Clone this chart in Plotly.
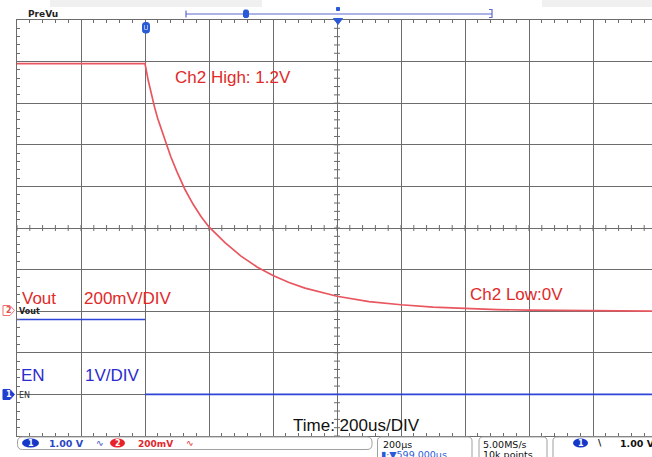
import plotly.graph_objects as go

# ---------------- data ----------------
ch2_time_us = [0, 100, 200, 300, 400, 410, 420, 430, 440, 460, 480, 500, 525, 550, 575,
               600, 650, 700, 750, 800, 850, 900, 950, 1000, 1100, 1200, 1300, 1400,
               1500, 1600, 1800, 1984]
ch2_volts = [1.19, 1.19, 1.19, 1.19, 1.19, 1.11, 1.04, 0.98, 0.925, 0.83, 0.745, 0.67, 0.585, 0.515, 0.455,
             0.405, 0.33, 0.265, 0.213, 0.172, 0.138, 0.111, 0.09, 0.072, 0.046, 0.031, 0.02, 0.013,
             0.008, 0.005, 0.002, 0.0]
ch1_time_us = [0, 400, None, 400, 1984]
ch1_volts = [1.8, 1.8, None, 0.0, 0.0]

ch2_range = [-0.6, 1.4]    # 200 mV/div, 10 div
ch1_range = [-1.0, 9.0]    # 1 V/div, 10 div
time_div_us = 200

# ---------------- geometry ----------------
W, H = 652, 457
L, R, T, B = 17, 0, 20, 21
PW, PH = W - L - R, H - T - B
DIV_PX = 64.0
t_end = PW / DIV_PX * time_div_us


def px(x):
    return (x - L) / PW


def py(y):
    return (H - B - y) / PH


GRID = "#6c6c6c"
RED_TRACE = "#e9565f"
RED_TEXT = "#e02a2a"
BLUE_TRACE = "#2f45d8"
BLUE_TEXT = "#2b2bd0"
FONT = "Liberation Sans, Arial, sans-serif"
UI = "DejaVu Sans, sans-serif"

fig = go.Figure()
fig.add_trace(go.Scatter(x=ch1_time_us, y=ch1_volts, yaxis="y2", mode="lines",
                         line=dict(color=BLUE_TRACE, width=1.6), connectgaps=False,
                         hoverinfo="skip", showlegend=False))
fig.add_trace(go.Scatter(x=ch2_time_us, y=ch2_volts, yaxis="y", mode="lines",
                         line=dict(color=RED_TRACE, width=1.7),
                         hoverinfo="skip", showlegend=False))

shapes = []
# centre crosshair minor ticks
mid_t = 5 * time_div_us
mid_v = (ch2_range[0] + ch2_range[1]) / 2
dt = 3 * time_div_us / DIV_PX
dv = 3 * 0.2 / (PH / 10)
for i in range(0, 51):
    t = i * time_div_us / 5
    if t > t_end:
        break
    shapes.append(dict(type="line", xref="x", yref="y", x0=t, x1=t, y0=mid_v - dv, y1=mid_v + dv,
                       line=dict(color=GRID, width=1), layer="below"))
for i in range(0, 51):
    v = ch2_range[0] + i * 0.04
    shapes.append(dict(type="line", xref="x", yref="y", x0=mid_t - dt, x1=mid_t + dt, y0=v, y1=v,
                       line=dict(color=GRID, width=1), layer="below"))


def path(points, close=True):
    s = "M " + " L ".join(f"{px(x):.5f},{py(y):.5f}" for x, y in points)
    return s + (" Z" if close else "")


def rrect(x0, y0, x1, y1, r):
    P = lambda x, y: f"{px(x):.5f},{py(y):.5f}"
    return (f"M {P(x0 + r, y0)} L {P(x1 - r, y0)} Q {P(x1, y0)} {P(x1, y0 + r)} "
            f"L {P(x1, y1 - r)} Q {P(x1, y1)} {P(x1 - r, y1)} L {P(x0 + r, y1)} "
            f"Q {P(x0, y1)} {P(x0, y1 - r)} L {P(x0, y0 + r)} Q {P(x0, y0)} {P(x0 + r, y0)} Z")


def shp_path(p, fill=None, line="#999", width=1):
    d = dict(type="path", xref="paper", yref="paper", path=p, line=dict(color=line, width=width))
    if fill:
        d["fillcolor"] = fill
    return d


def ellipse(cx, cy, rx, ry, fill):
    return dict(type="circle", xref="paper", yref="paper", x0=px(cx - rx), x1=px(cx + rx),
                y0=py(cy + ry), y1=py(cy - ry), fillcolor=fill, line=dict(color=fill, width=0))


# top bar
shapes.append(dict(type="rect", xref="paper", yref="paper", x0=px(50), x1=px(262), y0=py(7), y1=py(0),
                   fillcolor="#f0f0f0", line=dict(width=0)))
shapes.append(dict(type="rect", xref="paper", yref="paper", x0=px(542), x1=px(652), y0=py(7), y1=py(0),
                   fillcolor="#f0f0f0", line=dict(width=0)))
shapes.append(shp_path(path([(186, 14), (492, 14)], False), line="#5b6bd0", width=1.2))
shapes.append(shp_path(path([(186, 10.5), (186, 17.5)], False), line="#5b6bd0", width=1.2))
shapes.append(shp_path(path([(489, 9.5), (492, 9.5), (492, 17.5), (489, 17.5)], False), line="#5b6bd0", width=1.2))
shapes.append(shp_path(rrect(243.5, 10, 248.5, 17.5, 1.5), fill="#2a5bd7", line="#2a5bd7"))
shapes.append(shp_path(path([(336.5, 7.5), (339.5, 7.5), (339.5, 10.5), (336.5, 10.5)]), fill="#2a5bd7", line="#2a5bd7"))
shapes.append(shp_path(path([(333.5, 18.5), (342.5, 18.5), (338, 24.5)]), fill="#2a5bd7", line="#2a5bd7"))
# trigger marker
shapes.append(shp_path(rrect(142.5, 22.5, 149.5, 33, 2.5), fill="#2a5bd7", line="#2a5bd7"))
shapes.append(shp_path(path([(144.5, 25), (144.5, 29.5), (147.5, 29.5), (147.5, 25)], False), line="#9fb6f0", width=1))

# left channel markers
shapes.append(shp_path(path([(3, 305.5), (10, 305.5), (14.5, 310.5), (10, 315.5), (3, 315.5)]),
                       fill="#ffffff", line="#f07070", width=1))
shapes.append(shp_path(path([(3, 389.5), (10, 389.5), (14.5, 394.5), (10, 399.5), (3, 399.5)]),
                       fill="#1f3fd0", line="#1f3fd0", width=1))

# bottom bar boxes
shapes.append(shp_path(rrect(17.5, 437, 372, 449.5, 5), fill="#ffffff", line="#a0a0a0"))
shapes.append(shp_path(rrect(377.5, 437, 472, 466, 4), fill="#ffffff", line="#a0a0a0"))
shapes.append(shp_path(rrect(479, 437, 547, 466, 4), fill="#ffffff", line="#a0a0a0"))
shapes.append(shp_path(rrect(553, 437, 662, 466, 4), fill="#ffffff", line="#a0a0a0"))
shapes.append(ellipse(30.5, 443, 8.5, 4.6, "#1538c8"))
shapes.append(ellipse(117.5, 443, 7.5, 4.6, "#e8202a"))
shapes.append(ellipse(580.5, 443, 7.5, 4.6, "#1538c8"))


def txt(s, x, y, color, size, family=FONT, bold=False, xanchor="left"):
    return dict(text=f"<b>{s}</b>" if bold else s, x=px(x), y=py(y), xref="paper", yref="paper",
                xanchor=xanchor, yanchor="middle", showarrow=False, borderpad=0,
                font=dict(color=color, size=size, family=family))


ann = [
    txt("Ch2 High: 1.2V", 174, 78, RED_TEXT, 17),
    txt("Vout", 21, 298, RED_TEXT, 17),
    txt("200mV/DIV", 83, 298, RED_TEXT, 17),
    txt("EN", 20, 375, BLUE_TEXT, 17),
    txt("1V/DIV", 84, 375, BLUE_TEXT, 17),
    txt("Ch2 Low:0V", 469, 294, RED_TEXT, 17),
    txt("Time: 200us/DIV", 292, 425, "#111111", 17),
    txt("PreVu", 27, 14, "#222222", 9, UI, True),
    txt("2", 8.5, 310.5, "#e05050", 8, UI, True, "center"),
    txt("1", 8.5, 394.5, "#ffffff", 8, UI, True, "center"),
    txt("Vout", 18, 311, "#222222", 8, UI, True),
    txt("EN", 18, 395, "#333333", 8, UI),
    txt("1", 30.5, 443, "#ffffff", 8, UI, True, "center"),
    txt("1.00 V", 48, 443.5, "#2a46c4", 9.5, UI, True),
    txt("∿", 95, 443, "#2a46c4", 9, UI),
    txt("2", 117.5, 443, "#ffffff", 8, UI, True, "center"),
    txt("200mV", 137, 443.5, "#e0282e", 9, UI, True),
    txt("∿", 185, 443, "#e0282e", 9, UI),
    txt("200µs", 382, 444, "#111111", 9.5, UI),
    txt("▮·▼599.000µs", 380, 454, "#2a5bd7", 9.5, UI),
    txt("5.00MS/s", 482, 444, "#111111", 9.5, UI),
    txt("10k points", 482, 454, "#111111", 9.5, UI),
    txt("1", 580.5, 443, "#ffffff", 8, UI, True, "center"),
    txt("\\", 597, 443, "#111111", 9, UI, True),
    txt("1.00 V", 619, 443.5, "#111111", 9.5, UI, True),
]

fig.update_layout(
    width=W, height=H,
    margin=dict(l=L, r=R, t=T, b=B, pad=0),
    paper_bgcolor="#ffffff", plot_bgcolor="#ffffff",
    showlegend=False,
    xaxis=dict(range=[0, t_end], tick0=0, dtick=time_div_us, showgrid=True, gridcolor=GRID, gridwidth=1.4,
               showline=True, linecolor=GRID, linewidth=1.4, mirror="allticks", ticks="",
               showticklabels=False, zeroline=False, fixedrange=True,
               minor=dict(dtick=time_div_us / 5, ticks="inside", ticklen=3, tickcolor=GRID, tickwidth=1,
                          showgrid=False)),
    yaxis=dict(range=ch2_range, tick0=0, dtick=0.2, showgrid=True, gridcolor=GRID, gridwidth=1.4,
               showline=True, linecolor=GRID, linewidth=1.4, ticks="", showticklabels=False,
               zeroline=False, fixedrange=True,
               minor=dict(dtick=0.04, ticks="inside", ticklen=3, tickcolor=GRID, tickwidth=1,
                          showgrid=False)),
    yaxis2=dict(range=ch1_range, overlaying="y", visible=False, fixedrange=True),
    shapes=shapes,
    annotations=ann,
)

fig.write_html("out.html", config=dict(displayModeBar=False),
               post_script="document.body.style.margin='0';document.body.style.overflow='hidden';")
